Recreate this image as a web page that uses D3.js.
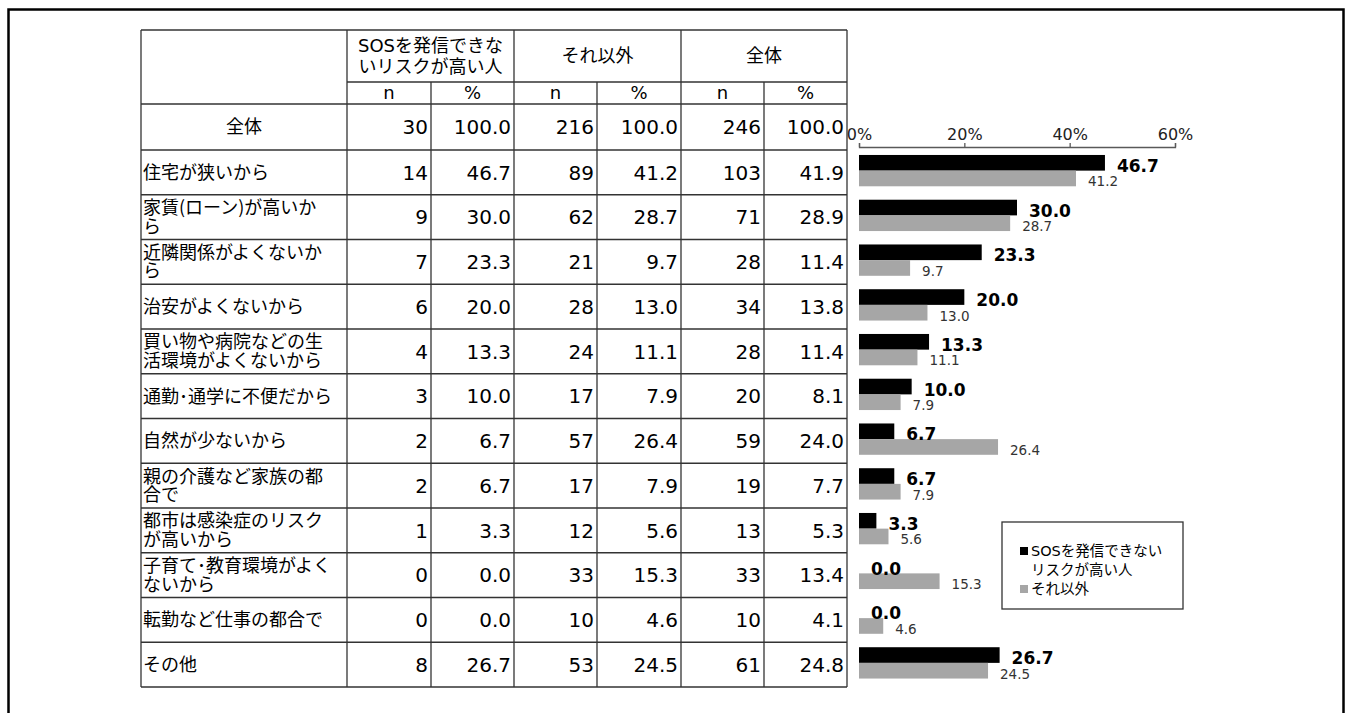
<!DOCTYPE html>
<html>
<head>
<meta charset="utf-8">
<script src="https://cdn.jsdelivr.net/npm/d3@7"></script>
<style>
  body { margin: 0; background: #fff; }
  svg { display: block; }
</style>
</head>
<body>
<div id="chart"></div>
<script>
// Data
const categories = ["全体", "住宅が狭いから", "家賃(ローン)が高いから", "近隣関係がよくないから", "治安がよくないから",
  "買い物や病院などの生活環境がよくないから", "通勤・通学に不便だから", "自然が少ないから", "親の介護など家族の都合で",
  "都市は感染症のリスクが高いから", "子育て・教育環境がよくないから", "転勤など仕事の都合で", "その他"];
// line breaks as shown in the table
const labelLines = [["全体"], ["住宅が狭いから"], ["家賃(ローン)が高いか", "ら"], ["近隣関係がよくないか", "ら"], ["治安がよくないから"],
  ["買い物や病院などの生", "活環境がよくないから"], ["通勤･通学に不便だから"], ["自然が少ないから"], ["親の介護など家族の都", "合で"],
  ["都市は感染症のリスク", "が高いから"], ["子育て･教育環境がよく", "ないから"], ["転勤など仕事の都合で"], ["その他"]];
const sosN = [30, 14, 9, 7, 6, 4, 3, 2, 2, 1, 0, 0, 8];
const sosPct = [100.0, 46.7, 30.0, 23.3, 20.0, 13.3, 10.0, 6.7, 6.7, 3.3, 0.0, 0.0, 26.7];
const otherN = [216, 89, 62, 21, 28, 24, 17, 57, 17, 12, 33, 10, 53];
const otherPct = [100.0, 41.2, 28.7, 9.7, 13.0, 11.1, 7.9, 26.4, 7.9, 5.6, 15.3, 4.6, 24.5];
const totalN = [246, 103, 71, 28, 34, 28, 20, 59, 19, 13, 33, 10, 61];
const totalPct = [100.0, 41.9, 28.9, 11.4, 13.8, 11.4, 8.1, 24.0, 7.7, 5.3, 13.4, 4.1, 24.8];
const groupNames = [["SOSを発信できな", "いリスクが高い人"], ["それ以外"], ["全体"]];
const subHeads = ["n", "%", "n", "%", "n", "%"];
const seriesNames = ["SOSを発信できない\nリスクが高い人", "それ以外"];
const xTicks = [0, 20, 40, 60];

// Layout
const W = 1349, H = 713;
const colX = [141, 347, 431, 514, 597, 681, 764, 847];
const headTop = 30, headMid = 82, headBot = 104, totalBot = 150, tableBot = 687;
const fontJP = "'Noto Sans CJK JP', sans-serif";
const fontNum = "'DejaVu Sans', 'Noto Sans CJK JP', sans-serif";
const lineCol = "#333";
const colors = ["#000000", "#a6a6a6"];

const svg = d3.select("#chart").append("svg")
  .attr("width", W).attr("height", H);

// outer frame
svg.append("rect")
  .attr("x", 8.5).attr("y", 9.5).attr("width", 1335).attr("height", 780)
  .attr("fill", "none").attr("stroke", "#000").attr("stroke-width", 2.5);

// ---------- Table ----------
const rowCats = categories.slice(1);
const row = d3.scaleBand().domain(rowCats).range([totalBot, tableBot]);
const rowTop = i => i === 0 ? headBot : row(categories[i]);
const rowH = i => i === 0 ? totalBot - headBot : row.bandwidth();

const table = svg.append("g");
const columns = [sosN, sosPct, otherN, otherPct, totalN, totalPct];

// grid lines
const hLines = [
  [headTop, colX[0], colX[7]],
  [headMid, colX[1], colX[7]],
  [headBot, colX[0], colX[7]],
  [totalBot, colX[0], colX[7]],
  ...rowCats.map(c => [row(c) + row.bandwidth(), colX[0], colX[7]])
];
table.selectAll("line.h").data(hLines).join("line")
  .attr("x1", d => d[1]).attr("x2", d => d[2])
  .attr("y1", d => d[0]).attr("y2", d => d[0])
  .attr("stroke", lineCol).attr("stroke-width", 1.3);
const vLines = colX.map((x, i) => [x, (i === 2 || i === 4 || i === 6) ? headMid : headTop]);
table.selectAll("line.v").data(vLines).join("line")
  .attr("x1", d => d[0]).attr("x2", d => d[0])
  .attr("y1", d => d[1]).attr("y2", tableBot)
  .attr("stroke", lineCol).attr("stroke-width", 1.3);

// group headers
groupNames.forEach((lines, g) => {
  const cx = (colX[1 + g * 2] + colX[3 + g * 2]) / 2;
  const cy = (headTop + headMid) / 2;
  lines.forEach((t, k) => {
    table.append("text")
      .attr("x", cx).attr("y", cy + (k - (lines.length - 1) / 2) * 21)
      .attr("dy", "0.36em").attr("text-anchor", "middle")
      .style("font-family", fontNum).style("font-size", "18px")
      .text(t);
  });
});
subHeads.forEach((t, k) => {
  table.append("text")
    .attr("x", (colX[1 + k] + colX[2 + k]) / 2).attr("y", (headMid + headBot) / 2)
    .attr("dy", "0.36em").attr("text-anchor", "middle")
    .style("font-family", fontNum).style("font-size", "18px")
    .text(t);
});

// row labels and values
categories.forEach((c, i) => {
  const top = rowTop(i), h = rowH(i);
  const lines = labelLines[i];
  if (i === 0) {
    table.append("text")
      .attr("x", (colX[0] + colX[1]) / 2).attr("y", top + h / 2)
      .attr("dy", "0.36em").attr("text-anchor", "middle")
      .style("font-family", fontJP).style("font-size", "18px")
      .text(lines[0]);
  } else if (lines.length === 1) {
    table.append("text")
      .attr("x", colX[0] + 2).attr("y", top + h / 2)
      .attr("dy", "0.36em")
      .style("font-family", fontJP).style("font-size", "18px")
      .text(lines[0]);
  } else {
    lines.forEach((t, k) => {
      table.append("text")
        .attr("x", colX[0] + 2).attr("y", top + 13 + k * 18.5)
        .attr("dy", "0.36em")
        .style("font-family", fontJP).style("font-size", "18px")
        .text(t);
    });
  }
  columns.forEach((col, k) => {
    const v = col[i];
    table.append("text")
      .attr("x", colX[2 + k] - 3).attr("y", top + h / 2)
      .attr("dy", "0.36em").attr("text-anchor", "end")
      .style("font-family", fontNum).style("font-size", "20px")
      .text(k % 2 === 1 ? v.toFixed(1) : v);
  });
});

// ---------- Bar chart ----------
const x = d3.scaleLinear().domain([0, 60]).range([859, 1175]);
const yBand = d3.scaleBand().domain(rowCats).range([totalBot, tableBot])
  .paddingInner(0.3).paddingOuter(0.15).align(0.37);
const ySub = d3.scaleBand().domain([0, 1]).range([0, yBand.bandwidth()]);

const axis = svg.append("g")
  .attr("transform", "translate(0,147)")
  .call(d3.axisTop(x).tickValues(xTicks).tickFormat(d => d + "%").tickSize(4).tickSizeOuter(4));
axis.select(".domain").attr("stroke", "#595959").attr("stroke-width", 1.3);
axis.selectAll(".tick line").attr("stroke", "#595959").attr("stroke-width", 1.3);
axis.selectAll(".tick text")
  .style("font-family", fontNum).style("font-size", "16px").attr("fill", "#222");

const barData = [];
rowCats.forEach((c, i) => {
  barData.push({ cat: c, s: 0, v: sosPct[i + 1] });
  barData.push({ cat: c, s: 1, v: otherPct[i + 1] });
});

svg.append("g").selectAll("rect").data(barData).join("rect")
  .attr("x", x(0))
  .attr("y", d => yBand(d.cat) + ySub(d.s))
  .attr("width", d => x(d.v) - x(0))
  .attr("height", ySub.bandwidth())
  .attr("fill", d => colors[d.s]);

svg.append("g").selectAll("text").data(barData).join("text")
  .attr("x", d => x(d.v) + 12)
  .attr("y", d => yBand(d.cat) + ySub(d.s) + ySub.bandwidth() / 2 + 3)
  .attr("dy", "0.36em")
  .style("font-family", fontNum)
  .style("font-size", d => d.s === 0 ? "17px" : "13.5px")
  .style("font-weight", d => d.s === 0 ? "bold" : "normal")
  .attr("fill", d => d.s === 0 ? "#000" : "#333")
  .text(d => d.v.toFixed(1));

// ---------- Legend ----------
const legend = svg.append("g").attr("transform", "translate(1002,522)");
legend.append("rect")
  .attr("width", 181).attr("height", 87)
  .attr("fill", "#fff").attr("stroke", lineCol).attr("stroke-width", 1.3);
let ly = 29;
seriesNames.forEach((name, s) => {
  legend.append("rect")
    .attr("x", 18).attr("y", ly - 4).attr("width", 8).attr("height", 8)
    .attr("fill", colors[s]);
  name.split("\n").forEach((t, k) => {
    legend.append("text")
      .attr("x", 29).attr("y", ly).attr("dy", "0.36em")
      .style("font-family", fontNum).style("font-size", "14.5px")
      .text(t);
    ly += 19;
  });
});
</script>
</body>
</html>
